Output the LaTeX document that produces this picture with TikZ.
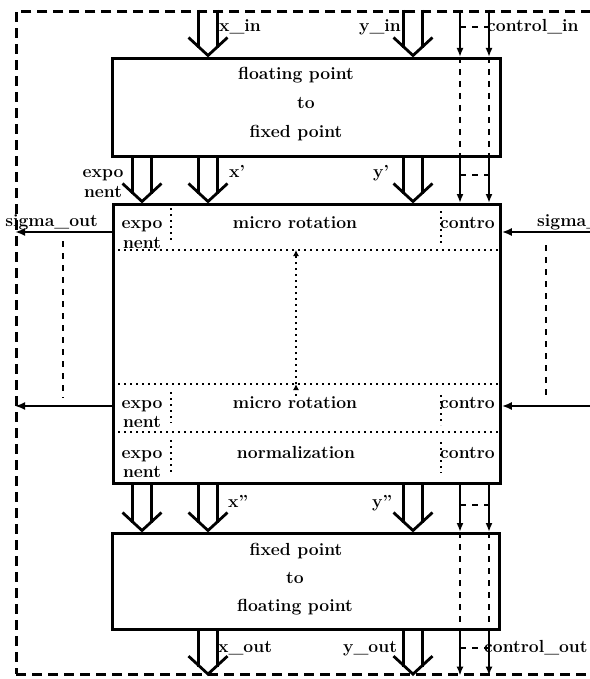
\documentclass[tikz,border=0pt]{standalone}
\usetikzlibrary{calc,arrows.meta}
\newcommand\hollowarrow[3]{%
  \coordinate (hs) at (#1 |- #2);
  \coordinate (ht) at (#1 |- #3);
  \draw[shaft] ($(hs)+(-9.5,0)$) -- ($(ht)+(-9.5,-9)$)
               ($(hs)+(9.5,0)$) -- ($(ht)+(9.5,-9)$);
  \draw[shaft, line join=miter] ($(ht)+(-19.5,-19.5)$) -- ($(ht)+(0,-1.5)$) -- ($(ht)+(19.5,-19.5)$);
}
\begin{document}
\begin{tikzpicture}[x=1pt,y=-1pt,
  every node/.style={font=\fontsize{17.5}{17.5}\selectfont\bfseries, inner sep=0pt},
  box/.style={draw, line width=2.8pt, inner sep=0pt, anchor=north west},
  lbl/.style={anchor=base},
  shaft/.style={line width=2.8pt},
  ctl/.style={line width=2.5pt, -{Latex[length=9pt,width=7pt]}},
  ctlin/.style={line width=2.4pt, dash pattern=on 6pt off 6pt},
  dotl/.style={line width=2.5pt, dash pattern=on 2.4pt off 3.6pt},
  dashv/.style={line width=2.4pt, dash pattern=on 6pt off 6pt},
  sig/.style={line width=2.6pt, -{Latex[length=10pt,width=8pt]}},
]
\useasboundingbox (0,0) rectangle (589,679);
% frame and boxes
\node[draw, line width=2.6pt, dash pattern=on 10pt off 6pt, anchor=north west,
      minimum width=620pt, minimum height=663pt] (frame) at (15,10) {};
\node[box, minimum width=388pt, minimum height=98pt] (f2x) at (111,57) {};
\node[box, minimum width=387pt, minimum height=279pt] (core) at (112,203) {};
\node[box, minimum width=387pt, minimum height=96pt] (x2f) at (111,532) {};
% columns and rows
\coordinate (cE) at (142,0);
\coordinate (cX) at (208,0);
\coordinate (cY) at (413,0);
\coordinate (cA) at (460,0);
\coordinate (cB) at (489,0);
\coordinate (cM) at (296,0);
\coordinate (cL) at (171,0);
\coordinate (cR) at (441,0);
\coordinate (r1) at (0,250);
\coordinate (r2) at (0,384);
\coordinate (r3) at (0,432);
% box texts
\node[lbl] (t1) at (296,80) {floating point};
\node[lbl] (t2) at (306,109) {to};
\node[lbl] (t3) at (296,138) {fixed point};
\node[lbl] (b1) at (296,555) {fixed point};
\node[lbl] (b2) at (295,583) {to};
\node[lbl] (b3) at (295,611) {floating point};
% hollow data arrows
\hollowarrow{cX}{frame.north}{f2x.north}
\hollowarrow{cY}{frame.north}{f2x.north}
\hollowarrow{cE}{f2x.south}{core.north}
\hollowarrow{cX}{f2x.south}{core.north}
\hollowarrow{cY}{f2x.south}{core.north}
\hollowarrow{cE}{core.south}{x2f.north}
\hollowarrow{cX}{core.south}{x2f.north}
\hollowarrow{cY}{core.south}{x2f.north}
\hollowarrow{cX}{x2f.south}{frame.south}
\hollowarrow{cY}{x2f.south}{frame.south}
% control lines
\foreach \c in {cA,cB}{
  \draw[ctl] (\c |- frame.north) -- (\c |- f2x.north);
  \draw[ctlin] (\c |- f2x.north) -- (\c |- f2x.south);
  \draw[ctl] (\c |- f2x.south) -- (\c |- core.north);
  \draw[ctl] (\c |- core.south) -- (\c |- x2f.north);
  \draw[ctlin] (\c |- x2f.north) -- (\c |- x2f.south);
  \draw[ctl] (\c |- x2f.south) -- (\c |- frame.south);
}
\coordinate (k0) at (0,27);
\coordinate (k1) at (0,175);
\coordinate (k2) at (0,505);
\coordinate (k3) at (0,648);
\foreach \k in {k0,k1,k2,k3}{
  \draw[dashv] (cA |- \k) -- (cB |- \k);
}
% labels of data
\node[lbl, anchor=base west] (lxin) at (219,32) {x\_in};
\node[lbl, anchor=base west] (lyin) at (359,32) {y\_in};
\node[lbl, anchor=base west] (lcin) at (487,32) {control\_in};
\node[lbl] (le1) at (103,178) {expo};
\node[lbl] (le2) at (103,197) {nent};
\node[lbl, anchor=base west] (lxp) at (229,178) {x'};
\node[lbl, anchor=base west] (lyp) at (373,178) {y'};
\node[lbl, anchor=base west] (lxpp) at (228,507) {x''};
\node[lbl, anchor=base west] (lypp) at (372,507) {y''};
\node[lbl, anchor=base west] (lxout) at (218,652) {x\_out};
\node[lbl, anchor=base west] (lyout) at (343,652) {y\_out};
\node[lbl, anchor=base west] (lcout) at (484,652) {control\_out};
% inside core
\draw[dotl] (core.west |- r1) -- (core.east |- r1);
\draw[dotl] (core.west |- r2) -- (core.east |- r2);
\draw[dotl] (core.west |- r3) -- (core.east |- r3);
\node[lbl] (ce1) at (142,228) {expo};
\node[lbl] (ce2) at (142,248) {nent};
\node[lbl] (cm1) at (295,228) {micro rotation};
\node[lbl, anchor=base west] (cc1) at (440,228) {contro};
\node[lbl] (ce3) at (142,408) {expo};
\node[lbl] (ce4) at (142,427) {nent};
\node[lbl] (cm2) at (295,408) {micro rotation};
\node[lbl, anchor=base west] (cc2) at (440,408) {contro};
\node[lbl] (ce5) at (142,458) {expo};
\node[lbl] (ce6) at (142,477) {nent};
\node[lbl] (cm3) at (296,458) {normalization};
\node[lbl, anchor=base west] (cc3) at (440,458) {contro};
\draw[dotl] (cL |- 0,208) -- (cL |- 0,243);
\draw[dotl] (cR |- 0,211) -- (cR |- 0,243);
\draw[dotl] (cL |- 0,392) -- (cL |- 0,423);
\draw[dotl] (cR |- 0,395) -- (cR |- 0,425);
\draw[dotl] (cL |- 0,440) -- (cL |- 0,472);
\draw[dotl] (cR |- 0,442) -- (cR |- 0,473);
\coordinate (mb) at (0,396);
\draw[dotl, -{Latex[length=6pt,width=6pt]}] (cM |- mb) -- (cM |- r2);
\draw[dotl, -{Latex[length=6pt,width=6pt]}] (cM |- r2) -- (cM |- r1);
% sigma lines
\coordinate (s1) at (0,232);
\coordinate (s2) at (0,406);
\coordinate (sr1) at (600,232);
\coordinate (sr2) at (600,406);
\draw[sig] (core.west |- s1) -- (frame.west |- s1);
\draw[sig] (core.west |- s2) -- (frame.west |- s2);
\draw[sig] (sr1) -- (core.east |- s1);
\draw[sig] (sr2) -- (core.east |- s2);
\node[lbl, anchor=base east] (lsout) at (98,226) {sigma\_out};
\node[lbl, anchor=base west] (lsin) at (537,226) {sigma\_in};
\coordinate (dl1) at (63,241);
\coordinate (dl2) at (63,398);
\coordinate (dr1) at (546,245);
\coordinate (dr2) at (546,398);
\draw[dashv] (dl1) -- (dl2);
\draw[dashv] (dr1) -- (dr2);
\end{tikzpicture}
\end{document}
